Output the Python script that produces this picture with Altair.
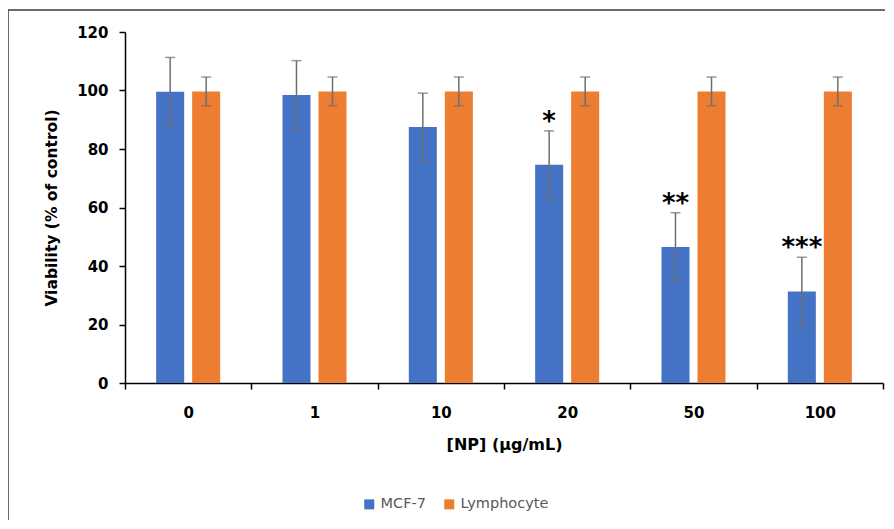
import altair as alt
import pandas as pd

concentrations = ["0", "1", "10", "20", "50", "100"]
series_names = ["MCF-7", "Lymphocyte"]
mcf7_values = [99.6, 98.5, 87.5, 74.6, 46.5, 31.3]
mcf7_errors = [11.7, 11.7, 11.6, 11.6, 11.7, 11.7]
lymph_values = [99.7, 99.7, 99.7, 99.7, 99.7, 99.7]
lymph_errors = [4.9, 4.9, 4.9, 4.9, 4.9, 4.9]
mcf7_stars = ["", "", "", "*", "**", "***"]

colors = ["#4472C4", "#ED7D31"]

rows = []
for i, c in enumerate(concentrations):
    rows.append({"conc": c, "series": "MCF-7", "value": mcf7_values[i],
                 "lo": mcf7_values[i] - mcf7_errors[i], "hi": mcf7_values[i] + mcf7_errors[i],
                 "star": mcf7_stars[i]})
    rows.append({"conc": c, "series": "Lymphocyte", "value": lymph_values[i],
                 "lo": lymph_values[i] - lymph_errors[i], "hi": lymph_values[i] + lymph_errors[i],
                 "star": ""})
df = pd.DataFrame(rows)

W, H = 758, 351
PAD = {"left": 117, "top": 24, "right": 2, "bottom": 137}
FONT = "DejaVu Sans"

x = alt.X("conc:N", sort=concentrations,
          scale=alt.Scale(paddingInner=0, paddingOuter=0),
          axis=alt.Axis(title="[NP] (µg/mL)", labelAngle=0, tickBand="extent",
                        domainColor="#000000", domainWidth=1.5, tickColor="#000000",
                        tickWidth=1.5, tickSize=6, labelFont=FONT, labelFontWeight="bold",
                        labelFontSize=15, labelColor="#000000", labelPadding=16,
                        titleFont=FONT, titleFontWeight="bold", titleFontSize=16,
                        titleColor="#000000", titlePadding=16))
xo = alt.XOffset("series:N", sort=series_names,
                 scale=alt.Scale(paddingInner=0.222, paddingOuter=0.865))
y = alt.Y("value:Q", scale=alt.Scale(domain=[0, 120]),
          axis=alt.Axis(title="Viability (% of control)", values=[0, 20, 40, 60, 80, 100, 120],
                        grid=False, domainColor="#000000", domainWidth=1.5,
                        tickColor="#000000", tickWidth=1.5, tickSize=6,
                        labelFont=FONT, labelFontWeight="bold", labelFontSize=15,
                        labelColor="#000000", labelPadding=11,
                        titleFont=FONT, titleFontWeight="bold", titleFontSize=15.5,
                        titleColor="#000000", titlePadding=17))

bars = alt.Chart(df).mark_bar().encode(
    x=x, xOffset=xo, y=y,
    color=alt.Color("series:N", sort=series_names,
                    scale=alt.Scale(domain=series_names, range=colors),
                    legend=alt.Legend(title=None, orient="none", direction="horizontal",
                                      legendX=237, legendY=465, symbolType="square",
                                      symbolSize=100, symbolStrokeWidth=0,
                                      labelFont=FONT, labelFontSize=14.5,
                                      labelColor="#595959", columnPadding=16,
                                      labelOffset=4)),
)

err_rule = alt.Chart(df).mark_rule(color="#6f6f6f", strokeWidth=1.5).encode(
    x=x, xOffset=xo, y=alt.Y("lo:Q"), y2="hi:Q")
cap_lo = alt.Chart(df).mark_tick(color="#6f6f6f", size=10, thickness=1.5).encode(
    x=x, xOffset=xo, y=alt.Y("lo:Q"))
cap_hi = alt.Chart(df).mark_tick(color="#6f6f6f", size=10, thickness=1.5).encode(
    x=x, xOffset=xo, y=alt.Y("hi:Q"))

stars = alt.Chart(df).mark_text(font="DejaVu Sans", fontWeight="bold", fontSize=26,
                                color="#000000", baseline="middle", dy=-9).encode(
    x=x, xOffset=xo, y=alt.Y("hi:Q"), text="star:N")

frame_data = alt.Data(values=[{"k": 0}])
frame_left = alt.Chart(frame_data).mark_rule(color="#3a3a3a", strokeWidth=1.5).encode(
    x=alt.value(-117), y=alt.value(-22), y2=alt.value(H + PAD["bottom"]))
frame_top = alt.Chart(frame_data).mark_rule(color="#3a3a3a", strokeWidth=1.5).encode(
    x=alt.value(-117), x2=alt.value(W + PAD["right"]), y=alt.value(-22))

chart = alt.layer(bars, err_rule, cap_lo, cap_hi, stars, frame_left, frame_top).properties(
    width=W, height=H,
    autosize=alt.AutoSizeParams(type="none"),
    padding=PAD,
).configure_view(strokeWidth=0)

chart.save("out.html", embed_options={"renderer": "svg", "actions": False})
